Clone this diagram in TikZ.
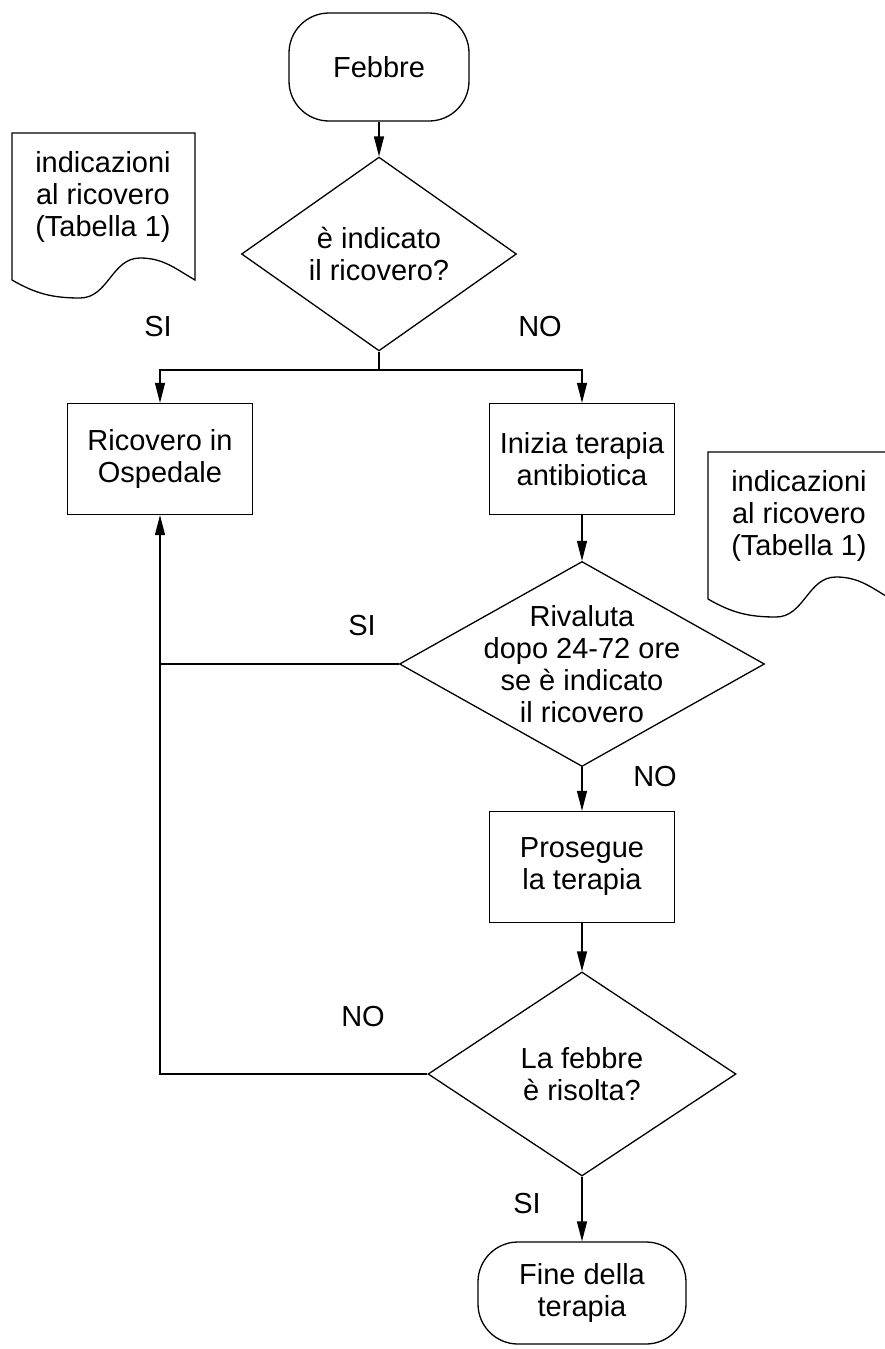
\documentclass[tikz,border=0pt]{standalone}
\usepackage{fontspec}
\setmainfont{Liberation Sans}
\usetikzlibrary{shapes.geometric,arrows.meta}

\begin{document}
\begin{tikzpicture}
      [%%%%%%%%%%%%%%%%%%%%%%%%%%%%%%
      x=1pt,y=-1pt,
      every node/.style={font=\fontsize{29}{32}\selectfont,align=center},
      line/.style={draw=black,line width=1.3pt},
      arr/.style={line,-{Triangle[length=20pt,width=10pt]}},
      term/.style={line,rectangle,rounded corners=40pt,minimum width=180pt,minimum height=108pt},
      box/.style={line,rectangle,minimum width=185pt,minimum height=111pt},
      decision/.style={line,diamond,inner sep=0pt},
      lbl/.style={inner sep=0pt},
      ]%%%%%%%%%%%%%%%%%%%%%%%%%%%%%%
      \useasboundingbox (0,0) rectangle (885,1349);

      % documents
      \foreach \dx/\dy in {0/0,696/319}
        \draw[line,shift={(\dx,\dy)}] (12,133) -- (195,133) -- (195,280)
          to[out=150,in=0] (140,258) to[out=180,in=0] (80,298)
          to[out=180,in=-30] (12,280) -- cycle;
      \node (doc1) at (103,197) {indicazioni\\al ricovero\\(Tabella 1)};
      \node (doc2) at (799,516) {indicazioni\\al ricovero\\(Tabella 1)};

      \node[term] (start) at (379,67) {Febbre};
      \node[decision,minimum width=275pt,minimum height=165pt] (d1) at (379,254) {è indicato\\il ricovero?};
      \node[box] (ricovero) at (160,459) {Ricovero in\\Ospedale};
      \node[box] (inizia) at (582,459) {Inizia terapia\\antibiotica};
      \node[decision,minimum width=365pt,minimum height=205pt,inner sep=-30pt] (d2) at (582,664) {Rivaluta\\dopo 24-72 ore\\se è indicato\\il ricovero};
      \node[box] (prosegue) at (582,867) {Prosegue\\la terapia};
      \node[decision,minimum width=308pt,minimum height=204pt] (d3) at (582,1074) {La febbre\\è risolta?};
      \node[term,minimum width=208pt,minimum height=102pt] (fine) at (582,1293) {Fine della\\terapia};

      \coordinate (split) at (379,370);
      \draw[arr] (start) -- (d1);
      \draw[line] (d1.south) -- (split);
      \draw[arr] (split) -| (ricovero.north);
      \draw[arr] (split) -| (inizia.north);
      \draw[arr] (inizia) -- (d2);
      \draw[line] (d2.west) -- (d2.west -| ricovero.south);
      \draw[arr] (d3.west) -| (ricovero.south);
      \draw[arr] (d2) -- (prosegue);
      \draw[arr] (prosegue) -- (d3);
      \draw[arr] (d3) -- (fine);

      \node[lbl] (si1) at (158,327) {SI};
      \node[lbl] (no1) at (540,327) {NO};
      \node[lbl] (si2) at (362,626) {SI};
      \node[lbl] (no2) at (655,777) {NO};
      \node[lbl] (no3) at (363,1017) {NO};
      \node[lbl] (si3) at (527,1204) {SI};
    \end{tikzpicture}
\end{document}
